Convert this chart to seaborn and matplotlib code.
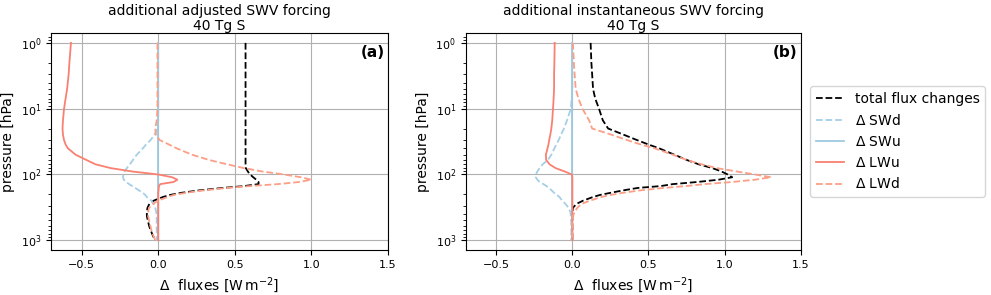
import numpy as np
import pandas as pd
import matplotlib
matplotlib.use('Agg')
import matplotlib.pyplot as plt
import seaborn as sns

# pressure levels [hPa], shared by all profiles
pressure = [1, 2, 3, 5, 7, 10, 15, 20, 25, 30, 35, 40, 50, 60, 70, 80, 90, 100,
            110, 120, 130, 140, 150, 160, 175, 190, 205, 220, 250, 280, 320,
            370, 430, 500, 600, 700, 850, 1000]

# (a) adjusted forcing
total_a = [0.57, 0.57, 0.57, 0.57, 0.57, 0.57, 0.57, 0.57, 0.57, 0.57,
           0.57, 0.57, 0.57, 0.57, 0.57, 0.572, 0.585, 0.60, 0.62, 0.64,
           0.655, 0.655, 0.56, 0.42, 0.26, 0.15, 0.075, 0.03, -0.03, -0.058,
           -0.07, -0.075, -0.074, -0.068, -0.06, -0.05, -0.035, -0.02]
swd_a = [0, 0, 0, 0, 0, 0, 0, -0.005, -0.025, -0.05, -0.08, -0.10, -0.14, -0.165,
         -0.185, -0.205, -0.22, -0.228, -0.23, -0.225, -0.21, -0.19, -0.17, -0.15,
         -0.125, -0.10, -0.085, -0.074, -0.045, -0.03, -0.02, -0.013, -0.01,
         -0.01, -0.01, -0.01, -0.01, -0.01]
swu_a = [0] * 38
lwu_a = [-0.57, -0.58, -0.585, -0.595, -0.605, -0.615, -0.622, -0.625, -0.622,
         -0.615, -0.605, -0.59, -0.54, -0.47, -0.41, -0.31, -0.17, 0.0, 0.09,
         0.125, 0.10, 0.013, 0.005, 0.003, 0.002, 0, 0, 0, 0, 0, 0, 0, 0, 0, 0,
         0, 0, 0]
lwd_a = [-0.005, -0.005, -0.005, -0.005, -0.005, -0.005, -0.01, -0.02, -0.015,
         0.01, 0.07, 0.12, 0.22, 0.33, 0.45, 0.56, 0.68, 0.82, 0.93, 1.0, 0.92,
         0.78, 0.60, 0.45, 0.29, 0.18, 0.10, 0.06, 0.0, -0.035, -0.06, -0.066,
         -0.066, -0.06, -0.052, -0.045, -0.032, -0.02]

# (b) instantaneous forcing
total_b = [0.12, 0.125, 0.13, 0.136, 0.15, 0.175, 0.20, 0.235, 0.34, 0.425, 0.50,
           0.57, 0.67, 0.75, 0.83, 0.92, 0.98, 1.02, 1.05, 0.96, 0.82, 0.66, 0.58,
           0.43, 0.33, 0.25, 0.18, 0.135, 0.07, 0.027, 0.004, 0, 0, 0, 0, 0, 0, 0]
swd_b = [0, 0, 0, 0, -0.004, -0.01, -0.035, -0.055, -0.075, -0.09, -0.105,
         -0.118, -0.138, -0.16, -0.195, -0.215, -0.23, -0.24, -0.24, -0.23,
         -0.215, -0.19, -0.17, -0.155, -0.135, -0.12, -0.10, -0.085, -0.066,
         -0.045, -0.025, -0.013, -0.01, -0.008, -0.007, -0.007, -0.007, -0.007]
swu_b = [0] * 38
lwu_b = [-0.116, -0.118, -0.12, -0.12, -0.123, -0.127, -0.132, -0.138, -0.145,
         -0.152, -0.157, -0.163, -0.174, -0.172, -0.15, -0.11, -0.05, -0.004,
         0, 0, 0, 0, 0, 0, 0, 0, 0, 0, 0, 0, 0, 0, 0, 0, 0, 0, 0, 0]
lwd_b = [0.004, 0.01, 0.015, 0.022, 0.04, 0.066, 0.11, 0.13, 0.26, 0.36, 0.45,
         0.54, 0.66, 0.75, 0.85, 0.95, 1.08, 1.2, 1.305, 1.20, 1.05, 0.87, 0.745,
         0.60, 0.44, 0.33, 0.25, 0.19, 0.115, 0.06, 0.033, 0.015, 0.004, -0.004,
         0, 0, 0, 0]

titles = ['additional adjusted SWV forcing\n40 Tg S',
          'additional instantaneous SWV forcing\n40 Tg S']
panel_labels = ['(a)', '(b)']
xticks = [-0.5, 0.0, 0.5, 1.0, 1.5]

# label, colour, linestyle
series_style = [
    ('total flux changes', 'black', '--'),
    ('$\\Delta$ SWd', '#a6cfe6', '--'),
    ('$\\Delta$ SWu', '#9ecae1', '-'),
    ('$\\Delta$ LWu', 'salmon', '-'),
    ('$\\Delta$ LWd', '#fc9f86', '--'),
]

panels = [[total_a, swd_a, swu_a, lwu_a, lwd_a],
          [total_b, swd_b, swu_b, lwu_b, lwd_b]]

fig = plt.figure(figsize=(9.91, 2.95), dpi=100)
ax1 = fig.add_axes([0.0515, 0.152, 0.340, 0.736])
ax2 = fig.add_axes([0.470, 0.152, 0.338, 0.736])

for ax, series, title, plab in zip([ax1, ax2], panels, titles, panel_labels):
    for values, (label, color, ls) in zip(series, series_style):
        df = pd.DataFrame({'flux': values, 'p': pressure})
        sns.lineplot(data=df, x='flux', y='p', sort=False, estimator=None,
                     color=color, linestyle=ls, linewidth=1.3, label=label, ax=ax)
    ax.set_yscale('log')
    ax.invert_yaxis()
    ax.set_xlim(-0.7, 1.5)
    ax.set_xticks(xticks)
    ax.tick_params(labelsize=8)
    ax.grid(True, color='#b0b0b0', linewidth=0.8)
    ax.set_axisbelow(True)
    ax.set_title(title, fontsize=10, pad=2, linespacing=1.1)
    ax.set_xlabel('$\\Delta$  fluxes [W$\\,$m$^{-2}$]', fontsize=10)
    ax.set_ylabel('pressure [hPa]', fontsize=10)
    ax.text(0.99, 0.945, plab, transform=ax.transAxes, ha='right', va='top',
            fontsize=11, fontweight='bold')

ax1.get_legend().remove()
ax2.legend(loc='center left', bbox_to_anchor=(1.008, 0.5), fontsize=10)

fig.savefig('out.png', dpi=100)
